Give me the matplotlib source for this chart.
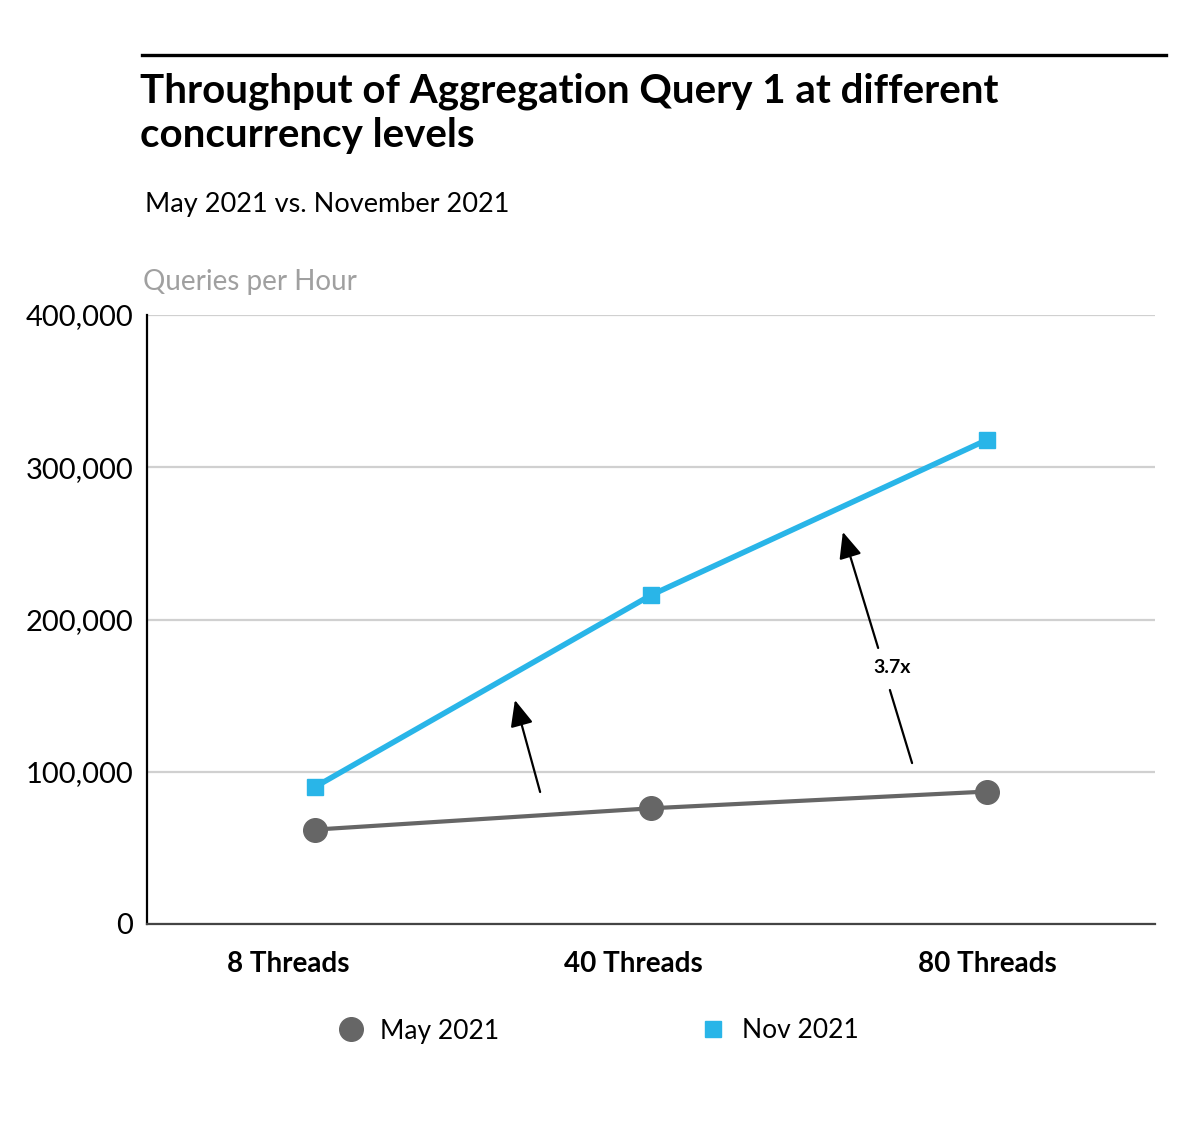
#!/usr/bin/env python3
"""Throughput of Aggregation Query 1 at different concurrency levels."""

import matplotlib

matplotlib.use("Agg")
import matplotlib.pyplot as plt
from matplotlib.lines import Line2D
from matplotlib.ticker import FuncFormatter

plt.rcParams["font.family"] = ["Lato", "DejaVu Sans"]

categories = ["8 Threads", "40 Threads", "80 Threads"]
may_2021 = [62000, 76000, 87000]
nov_2021 = [90000, 216000, 318000]
y_ticks = [0, 100000, 200000, 300000, 400000]

BLUE = "#29b5e8"
GREY = "#666666"

fig = plt.figure(figsize=(12.01, 11.42), dpi=100)
ax = fig.add_axes([147 / 1201, 1 - 924 / 1142, (1155 - 147) / 1201, (924 - 315) / 1142])

x = list(range(len(categories)))
ax.plot(x, nov_2021, color=BLUE, linewidth=4, marker="s", markersize=12,
        label="Nov 2021", zorder=4)
ax.plot(x, may_2021, color=GREY, linewidth=3, marker="o", markersize=17,
        label="May 2021", zorder=4)

ax.set_xlim(-0.5, 2.5)
ax.set_ylim(0, 400000)
ax.set_yticks(y_ticks)
ax.yaxis.set_major_formatter(FuncFormatter(lambda v, _: f"{v:,.0f}"))
ax.tick_params(axis="y", length=0, pad=10, labelsize=21)
ax.set_xticks(x)
ax.set_xticklabels([])
ax.tick_params(axis="x", length=0)
ax.grid(axis="y", color="#d0d0d0", linewidth=1.6)
ax.set_axisbelow(True)
for side in ("top", "right"):
    ax.spines[side].set_visible(False)
ax.spines["left"].set_color("#000000")
ax.spines["left"].set_linewidth(1.6)
ax.spines["bottom"].set_color("#444444")
ax.spines["bottom"].set_linewidth(1.6)

# category labels sit slightly off their ticks in the original
label_shift = [-27, -18, 0]
for xi, name, dx in zip(x, categories, label_shift):
    ax.annotate(name, (xi, 0), xycoords=("data", "axes fraction"),
                xytext=(dx * 0.72, -29), textcoords="offset points",
                ha="center", va="center", fontsize=20, fontweight="bold")

# growth arrows
arrow = dict(arrowstyle="-|>,head_length=0.8,head_width=0.35",
             mutation_scale=20, color="black", linewidth=1.6,
             shrinkA=0, shrinkB=0)
ax.annotate("", xy=(0.595, 147100), xytext=(0.670, 86700), arrowprops=arrow)
ax.annotate("", xy=(1.571, 257500), xytext=(1.676, 181300), arrowprops=arrow)
ax.annotate("", xy=(1.711, 153700), xytext=(1.777, 105700),
            arrowprops=dict(arrowstyle="-", color="black", linewidth=1.6,
                            shrinkA=0, shrinkB=0))
ax.text(1.717, 168800, "3.7x", ha="center", va="center", fontsize=14,
        fontweight="bold")

# header
fig.add_artist(Line2D([142 / 1201, 1166 / 1201], [1 - 55 / 1142] * 2,
                      transform=fig.transFigure, color="black", linewidth=2.4))
fig.text(140 / 1201, 1 - 102 / 1142, "Throughput of Aggregation Query 1 at different",
         fontsize=29, fontweight="bold", va="baseline")
fig.text(140 / 1201, 1 - 147 / 1142, "concurrency levels",
         fontsize=29, fontweight="bold", va="baseline")
fig.text(145 / 1201, 1 - 212 / 1142, "May 2021 vs. November 2021",
         fontsize=19.5, va="baseline")
fig.text(143 / 1201, 1 - 290 / 1142, "Queries per Hour", fontsize=20,
         color="#a0a0a0", va="baseline")

handles, labels = ax.get_legend_handles_labels()
order = [1, 0]
legend_handles = [
    Line2D([], [], color=GREY, marker="o", markersize=17, linestyle="none"),
    Line2D([], [], color=BLUE, marker="s", markersize=12, linestyle="none"),
]
fig.legend(legend_handles, [labels[i] for i in order], loc="center",
           bbox_to_anchor=(598 / 1201, 1 - 1031 / 1142), ncol=2,
           frameon=False, fontsize=19, handletextpad=0.6, columnspacing=7.6,
           handlelength=1.0)

fig.savefig("out.png", dpi=100)
